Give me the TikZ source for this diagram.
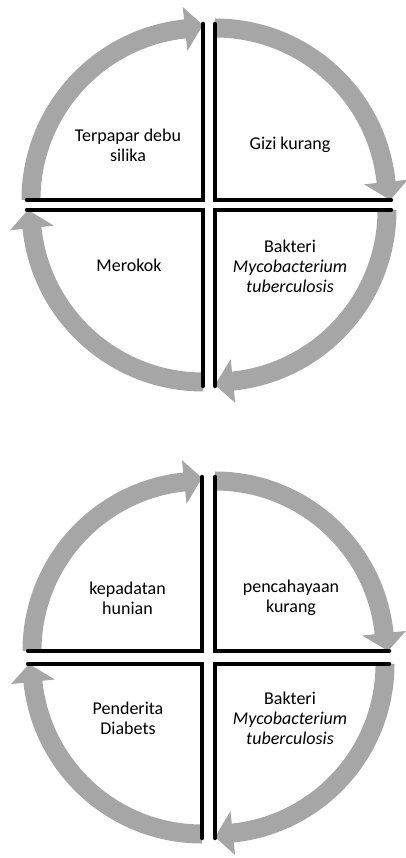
\documentclass[tikz,border=0pt]{standalone}
\usepackage{fontspec}
\setmainfont{Carlito}
\definecolor{arrowgray}{HTML}{A6A6A6}
\tikzset{
  band/.style={fill=arrowgray, draw=none},
  divider/.style={draw=black, line width=4.5pt, line cap=round, line join=miter},
  label/.style={align=center, font=\fontsize{18}{20}\selectfont, inner sep=0pt}
}
% #1 corner coordinate, #2 start angle (arc runs clockwise 90 deg), #3 radius
\newcommand{\quadpiece}[3]{%
  \begin{scope}[shift={(#1)}]
    \fill[band] ({#2}:{#3+5.5}) arc[start angle={#2}, end angle={#2-84}, radius={#3+5.5}]
      -- ({#2-84}:{#3+18}) -- ({#2-90}:{#3-1}) -- ({#2-84}:{#3-26})
      -- ({#2-84}:{#3-13.5}) arc[start angle={#2-84}, end angle={#2}, radius={#3-13.5}] -- cycle;
    \draw[divider] ({#2}:{#3}) -- (0,0) -- ({#2-90}:{#3});
  \end{scope}}
\begin{document}
\begin{tikzpicture}[x=1pt,y=1pt]
  \useasboundingbox (0,0) rectangle (406,858);
  % top diagram corners
  \coordinate (tTL) at (203,658);
  \coordinate (tTR) at (215,658);
  \coordinate (tBL) at (203,648);
  \coordinate (tBR) at (215,648);
  % bottom diagram corners
  \coordinate (bTL) at (202,207);
  \coordinate (bTR) at (215,207);
  \coordinate (bBL) at (202,194);
  \coordinate (bBR) at (215,194);

  \quadpiece{tTL}{180}{176}
  \quadpiece{tTR}{90}{176}
  \quadpiece{tBR}{0}{176}
  \quadpiece{tBL}{270}{176}

  \quadpiece{bTL}{180}{174}
  \quadpiece{bTR}{90}{174}
  \quadpiece{bBR}{0}{174}
  \quadpiece{bBL}{270}{174}

  \node[label] (t1) at (128,713) {Terpapar debu\\silika};
  \node[label] (t2) at (290,713) {Gizi kurang};
  \node[label] (t3) at (129,593) {Merokok};
  \node[label] (t4) at (290,592) {Bakteri\\\textit{Mycobacterium}\\\textit{tuberculosis}};

  \node[label] (b1) at (127.5,260) {kepadatan\\hunian};
  \node[label] (b2) at (291,260) {pencahayaan\\kurang};
  \node[label] (b3) at (128,140) {Penderita\\Diabets};
  \node[label] (b4) at (290,140) {Bakteri\\\textit{Mycobacterium}\\\textit{tuberculosis}};
\end{tikzpicture}
\end{document}
